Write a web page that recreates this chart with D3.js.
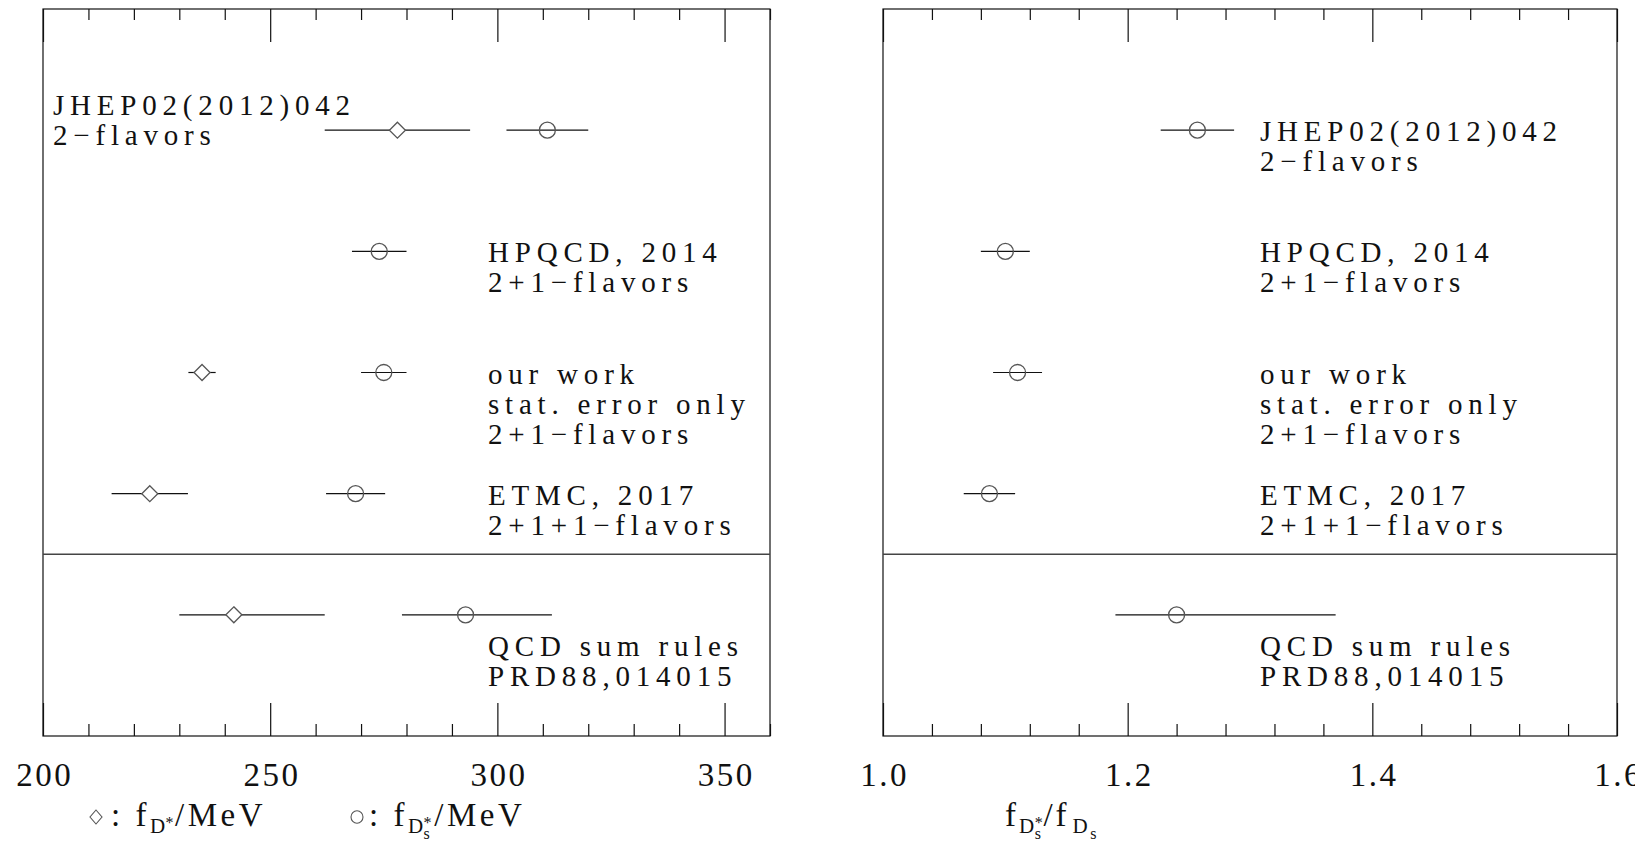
<!DOCTYPE html>
<html>
<head>
<meta charset="utf-8">
<script src="https://cdn.jsdelivr.net/npm/d3@7"></script>
<style>
  html, body { margin: 0; padding: 0; background: #fff; }
  svg { display: block; }
  text { font-family: "Liberation Serif", "Times New Roman", serif; fill: #111; }
</style>
</head>
<body>
<svg id="chart" width="1635" height="841"></svg>
<script>
// ---- data -------------------------------------------------------------
const rowNames  = ["JHEP02(2012)042", "HPQCD, 2014", "our work", "ETMC, 2017", "QCD sum rules"];
const rowNotes  = [["2−flavors"], ["2+1−flavors"], ["stat. error only", "2+1−flavors"], ["2+1+1−flavors"], ["PRD88,014015"]];

// f_D* [MeV] (diamonds); null where no value is quoted
const fDst    = [278, null, 235, 223.5, 242];
const fDstLo  = [16, null, 3, 8.4, 12];
const fDstHi  = [16, null, 3, 8.4, 20];

// f_Ds* [MeV] (circles)
const fDsst   = [311, 274, 275, 268.8, 293];
const fDsstLo = [9, 6, 5, 6.5, 14];
const fDsstHi = [9, 6, 5, 6.5, 19];

// ratio f_Ds* / f_Ds (circles)
const ratio   = [1.257, 1.10, 1.11, 1.087, 1.24];
const ratioLo = [0.03, 0.02, 0.02, 0.021, 0.05];
const ratioHi = [0.03, 0.02, 0.02, 0.021, 0.13];

const leftMajor  = [200, 250, 300, 350];
const rightMajor = [1.0, 1.2, 1.4, 1.6];

// ---- layout -----------------------------------------------------------
const svg = d3.select("#chart");
const TOP = 9, BOTTOM = 736;
const yRow = d3.scaleLinear().domain([0, 6]).range([TOP, BOTTOM]);
const INK = "#111", MARK = "#555";

const panels = [
  { x0: 43,  x1: 770,  domain: [200, 360], major: leftMajor,  minor: d3.range(0, 17).map(i => 200 + i * 10),
    fmt: d3.format("d") },
  { x0: 883, x1: 1617, domain: [1.0, 1.6], major: rightMajor, minor: d3.range(0, 16).map(i => +(1 + i * 0.04).toFixed(2)),
    fmt: d3.format(".1f") }
];
panels.forEach(p => { p.x = d3.scaleLinear().domain(p.domain).range([p.x0, p.x1]); });

function styleAxis(g) {
  g.select(".domain").remove();
  g.attr("color", INK);
  g.selectAll(".tick line").attr("stroke-width", 1.2);
}

panels.forEach(p => {
  const g = svg.append("g");
  const minorOnly = p.minor.filter(v => !p.major.some(m => Math.abs(m - v) < 1e-9));

  // frame and separator between lattice results and sum rules
  g.append("rect")
    .attr("x", p.x0).attr("y", TOP).attr("width", p.x1 - p.x0).attr("height", BOTTOM - TOP)
    .attr("fill", "none").attr("stroke", INK).attr("stroke-width", 1.2);
  g.append("line")
    .attr("x1", p.x0).attr("x2", p.x1).attr("y1", yRow(4.5)).attr("y2", yRow(4.5))
    .attr("stroke", "#444").attr("stroke-width", 1.6);

  // inward ticks, top and bottom
  g.append("g").attr("transform", `translate(0,${TOP})`)
    .call(d3.axisTop(p.x).tickValues(p.major).tickSizeInner(-33).tickSizeOuter(0).tickFormat(""))
    .call(styleAxis);
  g.append("g").attr("transform", `translate(0,${TOP})`)
    .call(d3.axisTop(p.x).tickValues(minorOnly).tickSizeInner(-11).tickSizeOuter(0).tickFormat(""))
    .call(styleAxis);
  g.append("g").attr("transform", `translate(0,${BOTTOM})`)
    .call(d3.axisBottom(p.x).tickValues(minorOnly).tickSizeInner(-12).tickSizeOuter(0).tickFormat(""))
    .call(styleAxis);
  const bx = g.append("g").attr("transform", `translate(0,${BOTTOM})`)
    .call(d3.axisBottom(p.x).tickValues(p.major).tickSizeInner(-33).tickSizeOuter(0).tickPadding(27).tickFormat(p.fmt))
    .call(styleAxis);
  bx.selectAll("text")
    .attr("font-family", "'Liberation Serif', serif")
    .attr("font-size", 33)
    .attr("letter-spacing", 2.5)
    .attr("dx", 1.2)
    .attr("fill", INK);
});

// ---- marks ------------------------------------------------------------
function errorBars(p, vals, lo, hi) {
  const d = vals.map((v, i) => ({ v, lo: lo[i], hi: hi[i], i })).filter(e => e.v != null);
  svg.append("g").selectAll("line").data(d).join("line")
    .attr("x1", e => p.x(e.v - e.lo)).attr("x2", e => p.x(e.v + e.hi))
    .attr("y1", e => yRow(e.i + 1)).attr("y2", e => yRow(e.i + 1))
    .attr("stroke", INK).attr("stroke-width", 1.2);
  return d;
}
function diamonds(p, d) {
  svg.append("g").selectAll("path").data(d).join("path")
    .attr("transform", e => `translate(${p.x(e.v)},${yRow(e.i + 1)})`)
    .attr("d", "M0,-8L8,0L0,8L-8,0Z")
    .attr("fill", "#fff").attr("stroke", MARK).attr("stroke-width", 1.3);
}
function circles(p, d) {
  svg.append("g").selectAll("ellipse").data(d).join("ellipse")
    .attr("cx", e => p.x(e.v)).attr("cy", e => yRow(e.i + 1))
    .attr("rx", 8).attr("ry", 8)
    .attr("fill", "none").attr("stroke", MARK).attr("stroke-width", 1.3);
}

const [L, R] = panels;
diamonds(L, errorBars(L, fDst, fDstLo, fDstHi));
circles(L, errorBars(L, fDsst, fDsstLo, fDsstHi));
circles(R, errorBars(R, ratio, ratioLo, ratioHi));

// ---- row labels -------------------------------------------------------
function label(x, y, lines) {
  const t = svg.append("text").attr("x", x).attr("y", y)
    .attr("font-size", 29).attr("letter-spacing", 5.8);
  lines.forEach((s, k) => t.append("tspan").attr("x", x).attr("dy", k ? 30 : 0).text(s));
}
rowNames.forEach((name, i) => {
  const lines = [name, ...rowNotes[i]];
  const yc = yRow(i + 1);
  const off = i === 4 ? 41 : 11;
  // left panel: first entry sits above its error bars at the left edge
  if (i === 0) label(53, yc - 15, lines);
  else label(488, yc + off, lines);
  label(1260, yc + off, lines);
});

// ---- axis titles ------------------------------------------------------
const TB = 826;
svg.append("path").attr("transform", `translate(96,${TB - 9})`)
  .attr("d", "M0,-7L6,0L0,7L-6,0Z").attr("fill", "none").attr("stroke", MARK).attr("stroke-width", 1.1);
svg.append("ellipse").attr("cx", 357).attr("cy", TB - 9).attr("rx", 6).attr("ry", 6.2)
  .attr("fill", "none").attr("stroke", MARK).attr("stroke-width", 1.1);

function sub(t, s, dy, size, dx) {
  const ts = t.append("tspan").attr("dy", dy).attr("font-size", size).attr("letter-spacing", 0.5).text(s);
  if (dx) ts.attr("dx", dx);
  return ts;
}

const t1 = svg.append("text").attr("x", 111).attr("y", TB).attr("font-size", 33).attr("letter-spacing", 3.5);
t1.append("tspan").text(": f");
sub(t1, "D", 7, 21);
sub(t1, "*", -5, 16);
t1.append("tspan").attr("dy", -2).attr("dx", 1).text("/MeV");

const t2 = svg.append("text").attr("x", 369).attr("y", TB).attr("font-size", 33).attr("letter-spacing", 3.5);
t2.append("tspan").text(": f");
sub(t2, "D", 7, 21);
sub(t2, "*", -5, 16);
sub(t2, "s", 11, 16, -8.5);
t2.append("tspan").attr("dy", -13).attr("dx", 4).text("/MeV");

const t3 = svg.append("text").attr("x", 1005).attr("y", TB).attr("font-size", 33).attr("letter-spacing", 3);
t3.append("tspan").text("f");
sub(t3, "D", 7, 21);
sub(t3, "*", -5, 16);
sub(t3, "s", 11, 16, -8.5);
t3.append("tspan").attr("dy", -13).attr("dx", 2).text("/f");
sub(t3, "D", 7, 21, 3);
sub(t3, "s", 6, 16, 2);
</script>
</body>
</html>
